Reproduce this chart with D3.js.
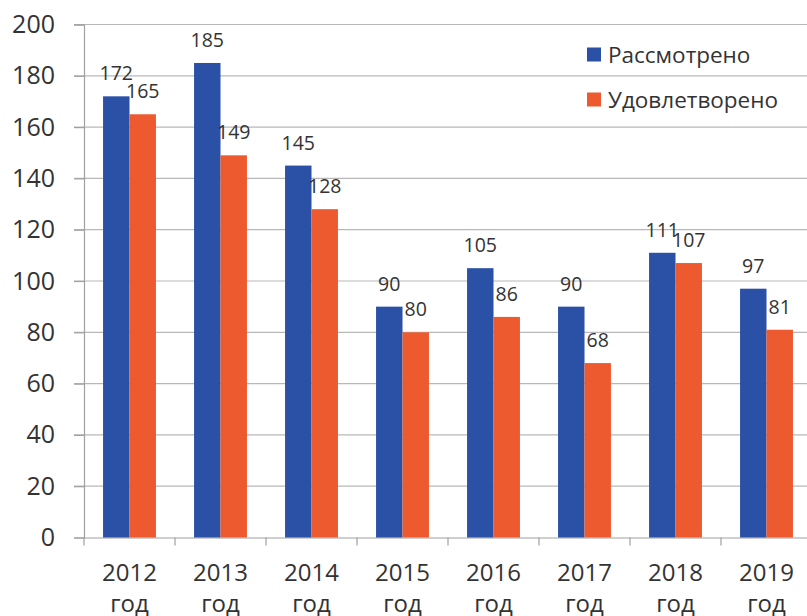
<!DOCTYPE html>
<html lang="ru">
<head>
    <meta charset="UTF-8">
    <title>Рассмотрено и удовлетворено</title>
    <style>
        body { margin: 0; background: #fff; }
        svg { display: block; }
        text { font-family: "Open Sans", sans-serif; fill: #333; }
    </style>
</head>
<body>
<script src="https://d3js.org/d3.v7.min.js"></script>
<script>

    var years = ['2012', '2013', '2014', '2015', '2016', '2017', '2018', '2019'];
    var seriesNames = ['Рассмотрено', 'Удовлетворено'];
    var reviewed = [172, 185, 145, 90, 105, 90, 111, 97];
    var satisfied = [165, 149, 128, 80, 86, 68, 107, 81];
    var yTicks = [0, 20, 40, 60, 80, 100, 120, 140, 160, 180, 200];

    var colors = ['#2b51a7', '#ee5a2f'];

    var width = 807,
        height = 616;

    var svg = d3.select('body').append('svg')
        .attr('width', width)
        .attr('height', height);

    var y = d3.scaleLinear()
        .domain([0, 200])
        .range([537.5, 24.5]);

    var x0 = d3.scaleBand()
        .domain(years)
        .range([84, 84 + 91 * years.length]);

    var x1 = d3.scaleBand()
        .domain(seriesNames)
        .range([0, x0.bandwidth()])
        .paddingInner(0)
        .paddingOuter(0.72);

    // grid
    svg.append('g')
        .selectAll('line')
        .data(yTicks.filter(d => d > 0))
        .enter()
        .append('line')
        .attr('x1', 74)
        .attr('x2', width)
        .attr('y1', d => y(d))
        .attr('y2', d => y(d))
        .attr('stroke', '#b8b8b8')
        .attr('stroke-width', 1.2);

    // y axis
    var yAxis = svg.append('g')
        .attr('transform', 'translate(84,0)')
        .call(d3.axisLeft(y).tickValues(yTicks).tickSize(10).tickPadding(19));
    yAxis.select('.domain').attr('stroke', '#a0a0a0').attr('stroke-width', 1.2);
    yAxis.selectAll('.tick line').attr('stroke', '#a0a0a0').attr('stroke-width', 1.2);
    yAxis.selectAll('.tick text')
        .attr('font-size', 25)
        .attr('fill', '#333');

    // x axis
    var xAxis = svg.append('g')
        .attr('transform', 'translate(0,' + y(0) + ')')
        .call(d3.axisBottom(x0).tickSize(0).tickFormat(''));
    xAxis.select('.domain').attr('stroke', '#a0a0a0').attr('stroke-width', 1.2);
    xAxis.selectAll('.tick').remove();

    xAxis.selectAll('.sep')
        .data(years)
        .enter()
        .append('line')
        .attr('x1', d => x0(d))
        .attr('x2', d => x0(d))
        .attr('y1', 0)
        .attr('y2', 8)
        .attr('stroke', '#a0a0a0')
        .attr('stroke-width', 1.2);

    var xl = svg.append('g')
        .selectAll('text')
        .data(years)
        .enter()
        .append('text')
        .attr('x', d => x0(d) + x0.bandwidth() / 2)
        .attr('y', 581)
        .attr('text-anchor', 'middle')
        .attr('font-size', 24);
    xl.append('tspan')
        .attr('x', d => x0(d) + x0.bandwidth() / 2)
        .text(d => d);
    xl.append('tspan')
        .attr('x', d => x0(d) + x0.bandwidth() / 2)
        .attr('dy', 31)
        .text('год');

    // bars
    var rows = years.map((yr, i) => ({ year: yr, values: [reviewed[i], satisfied[i]] }));

    var groups = svg.selectAll('.year')
        .data(rows)
        .enter()
        .append('g')
        .attr('class', 'year')
        .attr('transform', d => 'translate(' + x0(d.year) + ',0)');

    groups.selectAll('rect')
        .data(d => d.values.map((v, j) => ({ key: seriesNames[j], value: v, j: j })))
        .enter()
        .append('rect')
        .attr('x', d => x1(d.key))
        .attr('y', d => y(d.value))
        .attr('width', x1.bandwidth())
        .attr('height', d => y(0) - y(d.value))
        .attr('fill', d => colors[d.j]);

    groups.selectAll('.lbl')
        .data(d => d.values.map((v, j) => ({ key: seriesNames[j], value: v, j: j })))
        .enter()
        .append('text')
        .attr('class', 'lbl')
        .attr('x', d => x1(d.key) + x1.bandwidth() / 2)
        .attr('y', d => y(d.value) - 16)
        .attr('text-anchor', 'middle')
        .attr('font-size', 19.5)
        .text(d => d.value);

    // legend
    var legend = svg.selectAll('.legend')
        .data(seriesNames)
        .enter()
        .append('g')
        .attr('class', 'legend')
        .attr('transform', (d, i) => 'translate(587,' + (54.5 + i * 45) + ')');

    legend.append('rect')
        .attr('x', 0)
        .attr('y', -7)
        .attr('width', 14)
        .attr('height', 14)
        .attr('fill', (d, i) => colors[i]);

    legend.append('text')
        .attr('x', 21)
        .attr('y', 0)
        .attr('dominant-baseline', 'central')
        .attr('font-size', 22.5)
        .text(d => d);
</script>
</body>
</html>
